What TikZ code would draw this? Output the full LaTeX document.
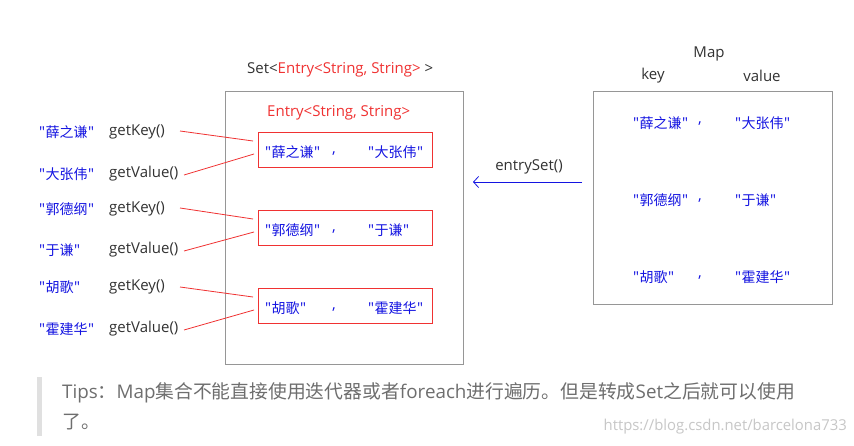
\documentclass[tikz,border=0pt]{standalone}
\usepackage{fontspec}
\setmainfont{Open Sans}
\newfontfamily\lat{Open Sans}
\newfontfamily\cjk{Noto Sans CJK SC}
\usetikzlibrary{arrows.meta}
\definecolor{kblue}{RGB}{20,20,225}
\definecolor{kred}{RGB}{240,50,50}
\definecolor{kgray}{RGB}{150,150,150}
\definecolor{kdark}{RGB}{50,50,50}
\definecolor{tipgray}{RGB}{110,110,110}
\newcommand\zh[1]{{\cjk #1}}
\newcommand\qz[1]{"\kern0.5pt{\cjk\fontsize{14}{16}\selectfont #1}\kern0.5pt"}
\begin{document}
\begin{tikzpicture}[x=1pt,y=-1pt,
  lbl/.style={anchor=west,inner sep=0pt,font=\lat\fontsize{15}{17}\selectfont},
  bl/.style={lbl,text=kblue},
  dk/.style={lbl,text=kdark},
  rbox/.style={draw=kred,line width=1pt},
  gbox/.style={draw=kgray,line width=1pt},
  rline/.style={draw=kred,line width=0.8pt}]
\useasboundingbox[fill=white] (0,0) rectangle (854,446);

% Set box
\node[gbox,minimum width=238pt,minimum height=272pt,inner sep=0pt] (set) at (344,228) {};
\node[dk,anchor=west] (settitle) at (247,70) {Set<\textcolor{kred}{Entry<String, String>}\kern4pt>};
\node[lbl,text=kred] (etitle) at (267,113) {Entry<String, String>};

% entry boxes
\foreach \i/\y/\k/\v in {1/150.5/薛之谦/大张伟,2/228.5/郭德纲/于谦,3/306.5/胡歌/霍建华}{
  \node[rbox,minimum width=174pt,minimum height=35pt,inner sep=0pt] (e\i) at (345,\y) {};
  \node[bl] (ek\i) at (265,\y+2) {\qz{\k}};
  \node[bl] (ec\i) at (332,\y+3) {,};
  \node[bl] (ev\i) at (368,\y+2) {\qz{\v}};
}

% left labels
\node[bl] (n1) at (39,132) {\qz{薛之谦}};
\node[dk] (gk1) at (109,132) {getKey()};
\node[bl] (n2) at (39,174) {\qz{大张伟}};
\node[dk] (gv1) at (109,174) {getValue()};
\node[bl] (n3) at (39,209) {\qz{郭德纲}};
\node[dk] (gk2) at (109,209) {getKey()};
\node[bl] (n4) at (39,250) {\qz{于谦}};
\node[dk] (gv2) at (109,250) {getValue()};
\node[bl] (n5) at (39,287) {\qz{胡歌}};
\node[dk] (gk3) at (109,287) {getKey()};
\node[bl] (n6) at (39,329) {\qz{霍建华}};
\node[dk] (gv3) at (109,329) {getValue()};

\foreach \i/\ya/\yb/\yc/\yd in {1/131/141/175/154,2/208/219/251/232,3/287/297/330/310}{
  \coordinate (ka\i) at (180,\ya);
  \coordinate (kb\i) at (253,\yb);
  \coordinate (va\i) at (184,\yc);
  \coordinate (vb\i) at (254,\yd);
  \draw[rline] (ka\i) -- (kb\i);
  \draw[rline] (va\i) -- (vb\i);
}

% Map
\node[dk,anchor=center] (maptitle) at (709,54) {Map};
\node[dk,anchor=center] (key) at (653,76) {key};
\node[dk,anchor=center] (val) at (762,76) {value};
\node[gbox,minimum width=239pt,minimum height=213pt,inner sep=0pt] (map) at (712.5,198.5) {};
\foreach \i/\y/\k/\v in {1/123/薛之谦/大张伟,2/200/郭德纲/于谦,3/277/胡歌/霍建华}{
  \node[bl] (mk\i) at (633,\y) {\qz{\k}};
  \node[bl] (mc\i) at (698,\y+1) {,};
  \node[bl] (mv\i) at (735,\y) {\qz{\v}};
}

% arrow
\coordinate (as) at (582,182);
\coordinate (ae) at (473,182);
\draw[kblue,line width=0.8pt,-{Straight Barb[length=5pt,width=11pt]}] (as) -- (ae);
\node[dk,anchor=center] (es) at (529,167) {entrySet()};

% tips
\fill[black!12] (37,377) rectangle (42,436);
\node[anchor=west,inner sep=0pt,text=tipgray,font=\fontsize{18.8}{21}\selectfont] (tip1) at (62,393) {Tips\zh{：}Map\zh{集合不能直接使用迭代器或者}foreach\zh{进行遍历。但是转成}Set\zh{之后就可以使用}};
\node[anchor=west,inner sep=0pt,text=tipgray,font=\fontsize{18.8}{21}\selectfont] (tip2) at (62,422) {\zh{了。}};
\node[anchor=east,inner sep=0pt,text=black!22,font=\fontsize{15}{17}\selectfont,xscale=0.99] (wm) at (847,427) {https://blog.csdn.net/barcelona733};
\end{tikzpicture}
\end{document}
